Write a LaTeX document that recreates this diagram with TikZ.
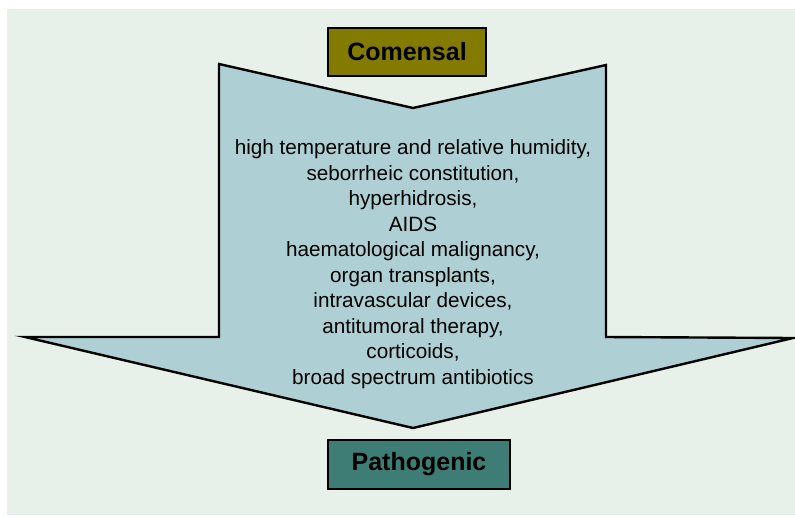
\documentclass[tikz,border=0pt]{standalone}
\usepackage{fontspec}
\setmainfont{Liberation Sans}
\definecolor{bgc}{RGB}{232,241,233}
\definecolor{arrowc}{RGB}{174,208,212}
\definecolor{olivec}{RGB}{131,123,0}
\definecolor{tealc}{RGB}{62,125,118}
\tikzset{
  labelbox/.style={draw=black, line width=2.6pt, inner sep=0pt, font=\fontsize{25}{30}\selectfont\bfseries, text=black},
  bigarrow/.style={draw=black, fill=arrowc, line width=2.4pt, line join=miter},
}
\begin{document}
\begin{tikzpicture}[x=1pt,y=-1pt]
\useasboundingbox (0,0) rectangle (795,517);
\fill[bgc] (7,9) rectangle (795,515);
\draw[bigarrow] (219,64) -- (413,108) -- (606,65) -- (606,337) -- (793,338) -- (413,428) -- (25,337) -- (219,337) -- cycle;
\node[align=center, font=\fontsize{20.7}{25.5}\selectfont] (factors) at (413,264) {high temperature and relative humidity,\\seborrheic constitution,\\hyperhidrosis,\\AIDS\\haematological malignancy,\\organ transplants,\\intravascular devices,\\antitumoral therapy,\\corticoids,\\broad spectrum antibiotics};
\node[labelbox, fill=olivec, minimum width=158pt, minimum height=48pt] (comensal) at (407,52) {Comensal};
\node[labelbox, fill=tealc, minimum width=182pt, minimum height=49pt] (pathogenic) at (419,464.5) {Pathogenic};
\end{tikzpicture}
\end{document}
